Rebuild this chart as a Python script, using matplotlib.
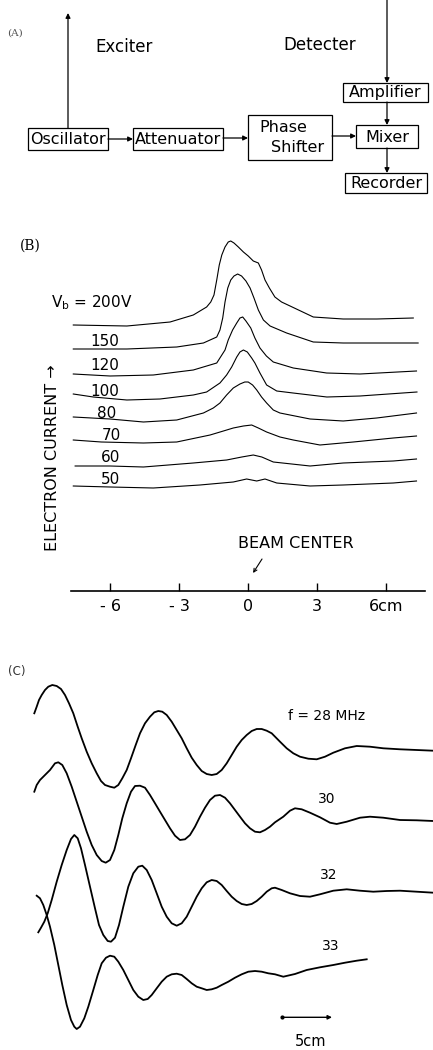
import matplotlib.pyplot as plt
from matplotlib.patches import Rectangle

# ---- (B) electron current profiles, x in cm, current in arbitrary units ----
vb_labels = ['150', '120', '100', '80', '70', '60', '50']

x_200 = [-7.6, -5.27, -3.39, -2.38, -1.80, -1.62, -1.48, -1.36, -1.25, -1.14, -1.0,
         -0.86, -0.75, -0.61, -0.42, -0.20, 0.01, 0.23, 0.45, 0.59, 0.74, 0.93, 1.17,
         1.46, 1.83, 2.84, 4.14, 5.60, 7.19]
y_200 = [266, 265, 269, 276, 284, 289, 296, 311, 326, 336, 344,
         349, 350, 348, 344, 339, 335, 330, 328, 321, 311, 303, 294,
         289, 285, 274, 272, 272, 273]

x_150 = [-7.6, -5.27, -3.10, -1.94, -1.36, -1.22, -1.10, -1.0, -0.88, -0.75, -0.61,
         -0.45, -0.28, -0.09, 0.09, 0.26, 0.45, 0.67, 0.96, 1.68, 2.84, 4.14, 6.32, 7.40]
y_150 = [242, 242, 244, 248, 254, 261, 273, 289, 303, 311, 315,
         317, 315, 310, 303, 293, 281, 271, 265, 258, 249, 248, 248, 248]

x_120 = [-7.6, -6.0, -4.12, -2.38, -1.36, -1.0, -0.86, -0.67, -0.49, -0.35, -0.23,
         -0.09, 0.12, 0.30, 0.52, 0.80, 1.10, 1.97, 3.42, 4.87, 7.33]
y_120 = [217, 215, 216, 221, 228, 241, 251, 261, 268, 273, 274,
         270, 263, 253, 243, 235, 229, 223, 218, 217, 220]

x_100 = [-7.6, -6.73, -5.27, -3.83, -2.38, -1.80, -1.22, -0.93, -0.71, -0.49, -0.35,
         -0.20, -0.03, 0.16, 0.30, 0.52, 0.81, 1.25, 1.96, 3.43, 4.87, 7.35]
y_100 = [197, 194, 191, 192, 196, 199, 208, 216, 224, 234, 239,
         241, 239, 233, 228, 218, 206, 200, 198, 194, 195, 199]

x_80 = [-7.6, -6.0, -4.55, -3.10, -1.94, -1.51, -1.22, -0.93, -0.64, -0.35, -0.14,
        0.01, 0.20, 0.38, 0.59, 0.81, 1.10, 1.39, 2.70, 4.14, 5.60, 7.33]
y_80 = [174, 172, 169, 171, 178, 183, 188, 196, 203, 207, 209,
        209, 206, 201, 194, 188, 181, 178, 172, 170, 173, 178]

x_70 = [-7.6, -6.38, -4.55, -3.10, -1.65, -1.07, -0.64, -0.20, 0.16, 0.45, 0.81,
        1.39, 1.97, 3.13, 4.58, 6.32, 7.33]
y_70 = [151, 149, 148, 149, 156, 160, 163, 165, 166, 163, 159,
        154, 151, 146, 149, 153, 155]

x_60 = [-7.52, -6.0, -4.55, -2.38, -0.93, -0.27, 0.23, 0.60, 1.10, 2.70, 4.14, 6.32, 7.33]
y_60 = [125, 125, 124, 128, 131, 134, 136, 134, 129, 125, 128, 130, 132]

x_50 = [-7.6, -6.0, -4.12, -2.09, -0.64, -0.06, 0.38, 0.74, 1.25, 2.70, 4.14, 6.32, 7.33]
y_50 = [105, 104, 103, 106, 109, 112, 110, 112, 108, 105, 106, 108, 110]

b_ticks = [-6, -3, 0, 3, 6]
b_ticklabels = ['- 6', '- 3', '0', '3', '6cm']

# ---- (C) wave signals, x in cm, signal in arbitrary units (offset per trace) ----
x_28 = [-0.07, 0.17, 0.4, 0.67, 1.0, 1.33, 1.73, 2.17, 2.6, 3.0, 3.4, 3.83, 4.27, 4.67,
        5.17, 5.67, 6.17, 6.6, 7.0, 7.5, 7.93, 8.33, 8.73, 9.17, 9.6, 10.07, 10.5,
        11.0, 11.5, 11.93, 12.33, 12.73, 13.17, 13.67, 14.17, 14.67, 15.17, 15.67,
        16.17, 16.67, 17.17, 17.67, 18.17, 18.67, 19.17, 19.67, 20.17, 20.67, 21.17,
        21.67, 22.17, 22.67, 23.17, 23.67, 24.5, 25.17, 25.83, 26.5, 27.33, 28.17,
        29.0, 29.83, 31.0, 32.17, 33.5, 34.83, 36.5, 38.17, 39.83]
y_28 = [33.67, 34.33, 35.0, 35.5, 36.0, 36.33, 36.5, 36.4, 36.1, 35.5, 34.67, 33.67,
        32.33, 31.17, 29.83, 28.67, 27.67, 26.9, 26.5, 26.33, 26.23, 26.5, 27.17,
        28.0, 29.17, 30.5, 31.67, 32.67, 33.33, 33.77, 33.9, 33.83, 33.5, 32.83,
        32.0, 31.17, 30.17, 29.23, 28.5, 27.9, 27.6, 27.5, 27.6, 28.0, 28.67, 29.5,
        30.33, 31.0, 31.5, 31.9, 32.1, 32.1, 31.93, 31.67, 30.83, 30.17, 29.67,
        29.33, 29.13, 29.07, 29.33, 29.73, 30.17, 30.4, 30.33, 30.17, 30.07, 30.0, 29.93]

x_30 = [-0.07, 0.17, 0.5, 1.0, 1.5, 2.0, 2.33, 2.73, 3.17, 3.67, 4.17, 4.67, 5.17,
        5.67, 6.17, 6.67, 7.07, 7.5, 7.93, 8.33, 8.73, 9.17, 9.6, 10.0, 10.5, 11.0,
        11.5, 12.0, 12.5, 13.0, 13.5, 14.0, 14.5, 15.0, 15.5, 16.0, 16.5, 17.0, 17.5,
        18.0, 18.5, 19.0, 19.5, 20.0, 20.5, 21.0, 21.5, 22.0, 22.5, 23.0, 23.5, 24.0,
        24.83, 25.5, 26.0, 26.67, 27.5, 28.5, 29.5, 30.17, 31.17, 32.5, 33.5, 34.83,
        36.5, 38.17, 39.83]
y_30 = [25.83, 26.5, 27.0, 27.5, 28.0, 28.67, 28.77, 28.5, 27.67, 26.33, 24.83,
        23.33, 21.83, 20.5, 19.5, 18.9, 18.73, 19.0, 20.0, 21.5, 23.17, 24.67, 25.83,
        26.4, 26.43, 26.23, 25.5, 24.67, 23.83, 23.0, 22.17, 21.43, 21.0, 21.07, 21.5,
        22.33, 23.33, 24.23, 25.0, 25.43, 25.5, 25.23, 24.67, 24.0, 23.33, 22.67,
        22.17, 21.83, 21.77, 22.0, 22.33, 22.77, 23.33, 23.93, 24.17, 24.07, 23.73,
        23.27, 22.73, 22.6, 22.83, 23.23, 23.33, 23.23, 23.0, 22.97, 22.9]

x_32 = [0.33, 0.6, 0.93, 1.27, 1.67, 2.17, 2.67, 3.17, 3.6, 3.93, 4.27, 4.6, 5.0, 5.5,
        6.0, 6.4, 6.83, 7.27, 7.6, 8.0, 8.4, 8.83, 9.33, 9.83, 10.33, 10.73, 11.17,
        11.67, 12.17, 12.67, 13.17, 13.67, 14.17, 14.67, 15.17, 15.67, 16.17, 16.67,
        17.17, 17.67, 18.17, 18.67, 19.17, 19.67, 20.17, 20.67, 21.17, 21.67, 22.17,
        22.67, 23.17, 23.67, 24.0, 24.67, 25.5, 26.5, 27.5, 28.5, 29.83, 31.17, 32.5,
        33.83, 35.17, 36.5, 38.17, 39.83]
y_32 = [11.77, 12.23, 12.83, 13.67, 15.0, 16.83, 18.5, 20.0, 21.1, 21.5, 21.17,
        20.17, 18.5, 16.33, 14.17, 12.5, 11.5, 10.9, 10.83, 11.23, 12.5, 14.33, 16.33,
        17.67, 18.33, 18.43, 18.0, 17.0, 15.67, 14.33, 13.33, 12.67, 12.43, 12.67,
        13.33, 14.33, 15.33, 16.17, 16.77, 17.0, 16.9, 16.5, 15.9, 15.33, 14.9, 14.6,
        14.5, 14.6, 14.9, 15.33, 15.83, 16.17, 16.23, 16.0, 15.67, 15.4, 15.33, 15.57,
        15.93, 16.07, 15.93, 15.83, 15.9, 15.93, 15.83, 15.73]

x_33 = [0.17, 0.5, 0.83, 1.17, 1.5, 1.93, 2.33, 2.73, 3.17, 3.6, 3.93, 4.17, 4.5, 4.93,
        5.33, 5.83, 6.27, 6.67, 7.1, 7.5, 7.93, 8.33, 8.83, 9.33, 9.83, 10.33, 10.83,
        11.27, 11.67, 12.17, 12.67, 13.17, 13.67, 14.17, 14.67, 15.17, 15.67, 16.17,
        16.67, 17.17, 17.67, 18.17, 18.67, 19.33, 20.0, 20.67, 21.33, 22.0, 22.67,
        23.33, 24.0, 24.83, 26.0, 27.17, 28.5, 29.83, 31.0, 32.17, 33.17]
y_33 = [15.43, 15.17, 14.5, 13.5, 12.33, 10.5, 8.5, 6.5, 4.5, 3.0, 2.33, 2.1, 2.33,
        3.17, 4.33, 6.0, 7.5, 8.67, 9.23, 9.43, 9.33, 8.83, 8.0, 7.0, 6.0, 5.33, 5.0,
        5.1, 5.5, 6.17, 6.83, 7.33, 7.57, 7.63, 7.5, 7.1, 6.67, 6.33, 6.17, 6.0, 6.07,
        6.23, 6.5, 6.83, 7.23, 7.57, 7.83, 7.9, 7.83, 7.67, 7.57, 7.33, 7.6, 8.0, 8.27,
        8.5, 8.73, 8.93, 9.07]

freq_labels = ['f = 28 MHz', '30', '32', '33']

# ---- (A) block diagram ----
blocks = ['Oscillator', 'Attenuator', 'Mixer', 'Amplifier', 'Recorder']

W, H = 433, 1050
fig = plt.figure(figsize=(4.33, 10.5), dpi=100)
fig.patch.set_facecolor('white')
plt.rcParams['font.family'] = 'DejaVu Sans'

# panel A drawn in a pixel-like frame
axA = fig.add_axes([0, 1 - 200 / H, 1, 200 / H])
axA.set_xlim(0, W)
axA.set_ylim(200, 0)
axA.axis('off')

box_pos = [(28, 128, 108, 150), (133, 128, 223, 150), (356, 125, 418, 148),
           (343, 83, 428, 102), (345, 173, 427, 193)]
for name, (x0, y0, x1, y1) in zip(blocks, box_pos):
    axA.add_patch(Rectangle((x0, y0), x1 - x0, y1 - y0, fill=False, lw=0.9, ec='black'))
    axA.text((x0 + x1) / 2, (y0 + y1) / 2 + 0.5, name, ha='center', va='center', fontsize=11.5)
axA.add_patch(Rectangle((248, 115), 84, 45, fill=False, lw=0.9, ec='black'))
axA.text(283, 127, 'Phase', ha='center', va='center', fontsize=11.5)
axA.text(298, 148, 'Shifter', ha='center', va='center', fontsize=11.5)

arr = dict(arrowstyle='-|>', lw=0.9, color='black', mutation_scale=7, shrinkA=0, shrinkB=0)
for (xa, ya), (xb, yb) in [((68, 128), (68, 13)), ((387, 0), (387, 83)),
                           ((108, 139), (133, 139)), ((223, 138), (248, 138)),
                           ((332, 136), (356, 136)), ((387, 102), (387, 125)),
                           ((387, 148), (387, 173))]:
    axA.annotate('', xy=(xb, yb), xytext=(xa, ya), arrowprops=arr)
axA.text(124, 47, 'Exciter', ha='center', va='center', fontsize=12)
axA.text(320, 45, 'Detecter', ha='center', va='center', fontsize=12)
fig.text(7 / W, 1 - 33 / H, '(A)', fontsize=7.5, family='DejaVu Serif', color='#555555', va='center')

# panel B
axB = fig.add_axes([71 / W, 1 - 591 / H, 354 / W, 360 / H])
for xs, ys in [(x_200, y_200), (x_150, y_150), (x_120, y_120), (x_100, y_100),
               (x_80, y_80), (x_70, y_70), (x_60, y_60), (x_50, y_50)]:
    axB.plot(xs, ys, color='black', lw=0.8)
axB.set_xlim(-7.7, 7.7)
axB.set_ylim(0, 360)
for s in ['top', 'right', 'left']:
    axB.spines[s].set_visible(False)
axB.spines['bottom'].set_linewidth(1.2)
axB.set_yticks([])
axB.set_xticks(b_ticks)
axB.set_xticklabels(b_ticklabels, fontsize=11.5)
axB.tick_params(axis='x', direction='in', length=6, width=1, pad=6)
axB.text(-8.55, 288, r'$\mathregular{V_b}$ = 200V', fontsize=11, va='center', ha='left', clip_on=False)
label_x = [-6.22, -6.22, -6.22, -6.13, -5.96, -6.0, -5.96]
label_y = [250, 225, 200, 178, 155, 133, 111]
for lab, lx, ly in zip(vb_labels, label_x, label_y):
    axB.text(lx, ly, lab, fontsize=11, ha='center', va='center')
axB.text(2.09, 48, 'BEAM CENTER', fontsize=11.5, ha='center', va='center')
axB.annotate('', xy=(0.22, 18), xytext=(0.61, 32),
             arrowprops=dict(arrowstyle='->', lw=0.8, color='black', mutation_scale=6,
                             shrinkA=0, shrinkB=0))
fig.text(53 / W, 1 - 458 / H, 'ELECTRON CURRENT \u2192', rotation=90, fontsize=11.5,
         ha='center', va='center')
fig.text(20 / W, 1 - 246 / H, '(B)', fontsize=10, family='DejaVu Serif', va='center')

# panel C
axC = fig.add_axes([0, 0, 1, 390 / H])
for xs, ys in [(x_28, y_28), (x_30, y_30), (x_32, y_32), (x_33, y_33)]:
    axC.plot(xs, ys, color='black', lw=1.3)
axC.set_xlim(-3.5, 39.8)
axC.set_ylim(0, 39)
axC.axis('off')
axC.text(25.3, 33.4, freq_labels[0], fontsize=10, ha='left', va='center')
for lab, lx, ly in zip(freq_labels[1:], [29.2, 29.4, 29.6], [25.1, 17.5, 10.4]):
    axC.text(lx, ly, lab, fontsize=10, ha='center', va='center')
axC.annotate('', xy=(29.7, 3.27), xytext=(24.7, 3.27),
             arrowprops=dict(arrowstyle='-|>', lw=1.0, color='black', mutation_scale=6,
                             shrinkA=0, shrinkB=0))
axC.plot([24.7], [3.27], marker='o', ms=2, color='black')
axC.text(27.6, 0.9, '5cm', fontsize=10.5, ha='center', va='center')
fig.text(8 / W, 1 - 672 / H, '(C)', fontsize=8.5, va='center', color='#333333')

plt.savefig('out.png', dpi=100)
plt.close()
